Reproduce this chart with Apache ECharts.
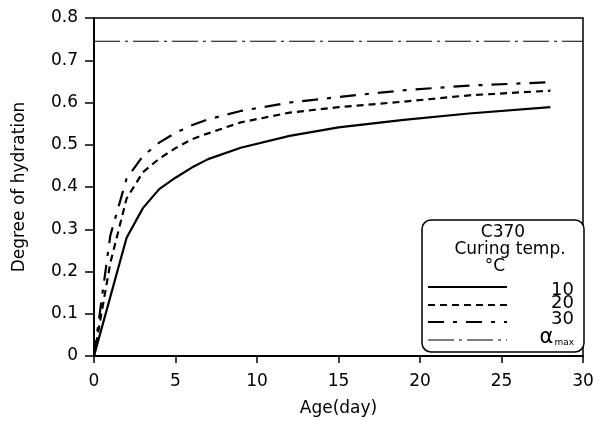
<!DOCTYPE html>
<html><head><meta charset="utf-8">
<script src="https://cdn.jsdelivr.net/npm/echarts@6/dist/echarts.min.js"></script>
<style>html,body{margin:0;padding:0;background:#fff}#c{width:610px;height:421px}</style>
</head><body><div id="c"></div>
<script>
const ages   = [0, 1, 2, 3, 4, 5, 6, 7, 9, 12, 15, 19, 23, 28];
const hyd10  = [0, 0.14, 0.28, 0.35, 0.395, 0.422, 0.446, 0.466, 0.493, 0.521, 0.541, 0.559, 0.574, 0.589];
const hyd20  = [0, 0.22, 0.373, 0.435, 0.467, 0.492, 0.513, 0.527, 0.553, 0.576, 0.589, 0.602, 0.617, 0.628];
const hyd30  = [0, 0.285, 0.42, 0.473, 0.505, 0.528, 0.546, 0.56, 0.58, 0.6, 0.613, 0.629, 0.64, 0.648];
const alphaAges = [0, 30];
const alphaMax  = [0.745, 0.745];
const legendTitle = ['C370', 'Curing temp.', '°C'];
const legendLabels = ['10', '20', '30'];

const FONT = 'DejaVu Sans';
const pair = (xs, ys) => xs.map((x, i) => [x, ys[i]]);

const chart = echarts.init(document.getElementById('c'), null, {renderer: 'canvas'});
const txt = {fontFamily: FONT, color: '#000'};

chart.setOption({
  backgroundColor: '#fff',
  animation: false,
  grid: {left: 94, right: 27, top: 18, bottom: 65, show: true, borderColor: '#000', borderWidth: 1.5, outerBoundsMode: 'none'},
  xAxis: {
    type: 'value', min: 0, max: 30, interval: 5,
    name: 'Age(day)', nameLocation: 'middle', nameGap: 44,
    nameTextStyle: Object.assign({fontSize: 17}, txt),
    axisLine: {show: true, lineStyle: {color: '#000', width: 2}},
    axisTick: {show: true, inside: false, length: 7, lineStyle: {color: '#000', width: 1.5}},
    axisLabel: Object.assign({fontSize: 17, margin: 17}, txt),
    splitLine: {show: false}
  },
  yAxis: {
    type: 'value', min: 0, max: 0.8, interval: 0.1,
    name: 'Degree of hydration', nameLocation: 'middle', nameGap: 66,
    nameTextStyle: Object.assign({fontSize: 17}, txt),
    axisLine: {show: true, lineStyle: {color: '#000', width: 2}},
    axisTick: {show: true, inside: false, length: 9, lineStyle: {color: '#000', width: 1.5}},
    axisLabel: Object.assign({fontSize: 17, margin: 16, formatter: v => v === 0 ? '0' : v.toFixed(1)}, txt),
    splitLine: {show: false}
  },
  series: [
    {name: '10', type: 'line', data: pair(ages, hyd10), showSymbol: false, symbol: 'none',
     lineStyle: {color: '#000', width: 2.2, type: 'solid'}},
    {name: '20', type: 'line', data: pair(ages, hyd20), showSymbol: false, symbol: 'none',
     lineStyle: {color: '#000', width: 2.2, type: [7, 5]}},
    {name: '30', type: 'line', data: pair(ages, hyd30), showSymbol: false, symbol: 'none',
     lineStyle: {color: '#000', width: 2.2, type: [16, 9, 4, 9]}},
    {name: 'amax', type: 'line', data: pair(alphaAges, alphaMax), showSymbol: false, symbol: 'none',
     lineStyle: {color: '#000', width: 1.2, type: [26, 5, 3, 5]}}
  ],
  graphic: [
    {type: 'rect', z: 100, shape: {x: 422, y: 220, width: 162, height: 132, r: 9},
     style: {fill: '#fff', stroke: '#000', lineWidth: 1.5}},
    {type: 'text', z: 101, x: 503, y: 233, style: {text: legendTitle[0], font: '17px ' + FONT, fill: '#000', align: 'center', verticalAlign: 'middle'}},
    {type: 'text', z: 101, x: 510, y: 250, style: {text: legendTitle[1], font: '17px ' + FONT, fill: '#000', align: 'center', verticalAlign: 'middle'}},
    {type: 'text', z: 101, x: 495, y: 267, style: {text: legendTitle[2], font: '17px ' + FONT, fill: '#000', align: 'center', verticalAlign: 'middle'}},
    {type: 'line', z: 101, shape: {x1: 428, y1: 287, x2: 507, y2: 287}, style: {stroke: '#000', lineWidth: 2.2}},
    {type: 'line', z: 101, shape: {x1: 428, y1: 305, x2: 507, y2: 305}, style: {stroke: '#000', lineWidth: 2.2, lineDash: [7, 5]}},
    {type: 'line', z: 101, shape: {x1: 428, y1: 322, x2: 507, y2: 322}, style: {stroke: '#000', lineWidth: 2.2, lineDash: [16, 9, 4, 9]}},
    {type: 'line', z: 101, shape: {x1: 428, y1: 340, x2: 507, y2: 340}, style: {stroke: '#000', lineWidth: 1.2, lineDash: [26, 5, 3, 5]}},
    {type: 'text', z: 101, x: 574, y: 290, style: {text: legendLabels[0], font: '18px ' + FONT, fill: '#000', align: 'right', verticalAlign: 'middle'}},
    {type: 'text', z: 101, x: 574, y: 303, style: {text: legendLabels[1], font: '18px ' + FONT, fill: '#000', align: 'right', verticalAlign: 'middle'}},
    {type: 'text', z: 101, x: 574, y: 319, style: {text: legendLabels[2], font: '18px ' + FONT, fill: '#000', align: 'right', verticalAlign: 'middle'}},
    {type: 'text', z: 101, x: 574, y: 338, style: {
      text: '{a|α}{s|max}', align: 'right', verticalAlign: 'middle', fill: '#000',
      rich: {a: {fontSize: 21, fontFamily: FONT, fill: '#000'}, s: {fontSize: 9, fontFamily: FONT, fill: '#000', padding: [9, 0, 0, 1]}}}}
  ]
});
</script></body></html>
